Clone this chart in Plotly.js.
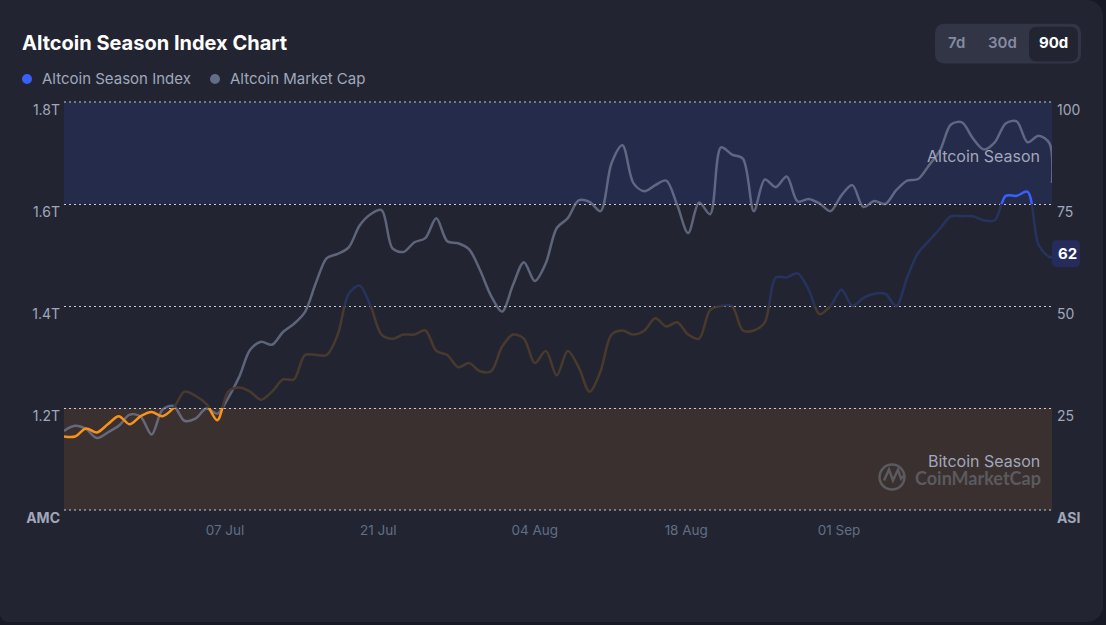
<!DOCTYPE html>
<html><head><meta charset="utf-8">
<script src="https://cdn.plot.ly/plotly-3.0.1.min.js"></script>
<style>
html,body{margin:0;padding:0;background:#171924;width:1106px;height:625px;overflow:hidden}
#g{position:absolute;left:0;top:0;width:1103px;height:622px;background:#222531;border-radius:0 16px 16px 8px;overflow:hidden}
</style></head><body><div id="g"></div>
<script>
var days=['06-22','06-23','06-24','06-25','06-26','06-27','06-28','06-29','06-30','07-01','07-02','07-03','07-04','07-05','07-06','07-07','07-08','07-09','07-10','07-11','07-12','07-13','07-14','07-15','07-16','07-17','07-18','07-19','07-20','07-21','07-22','07-23','07-24','07-25','07-26','07-27','07-28','07-29','07-30','07-31','08-01','08-02','08-03','08-04','08-05','08-06','08-07','08-08','08-09','08-10','08-11','08-12','08-13','08-14','08-15','08-16','08-17','08-18','08-19','08-20','08-21','08-22','08-23','08-24','08-25','08-26','08-27','08-28','08-29','08-30','08-31','09-01','09-02','09-03','09-04','09-05','09-06','09-07','09-08','09-09','09-10','09-11','09-12','09-13','09-14','09-15','09-16','09-17','09-18','09-19','09-20'];
var seasonIndex=[18,18,20,19,21,23,21,23,24,23,25,29,28,26,22,29,30,29,27,29,32,32,38,38,38,43,53,55,50,43,42,43,43,44,39,38,35,36,34,34,40,43,42,36,39,33,39,35,29,34,43,44,43,44,47,45,46,43,42,49,50,50,44,44,46,57,57,58,54,48,50,54,50,52,53,53,50,57,63,66,69,72,72,72,71,71,77,77,78,65,62,62];
var marketCap=[1.155,1.165,1.159,1.141,1.152,1.165,1.187,1.183,1.148,1.197,1.204,1.175,1.179,1.199,1.189,1.220,1.261,1.314,1.330,1.324,1.349,1.365,1.388,1.445,1.494,1.502,1.515,1.558,1.580,1.588,1.513,1.506,1.525,1.533,1.572,1.527,1.523,1.511,1.470,1.420,1.389,1.441,1.486,1.449,1.484,1.553,1.572,1.607,1.604,1.586,1.680,1.715,1.641,1.625,1.637,1.646,1.598,1.543,1.603,1.580,1.711,1.697,1.689,1.586,1.648,1.633,1.654,1.605,1.610,1.601,1.586,1.617,1.637,1.594,1.606,1.600,1.627,1.646,1.649,1.676,1.705,1.756,1.760,1.729,1.707,1.721,1.758,1.762,1.721,1.734,1.719,1.641];
var leftTickVals=[1.0,1.2,1.4,1.6,1.8];
var leftTickText=['<b>AMC</b>','1.2T','1.4T','1.6T','1.8T'];
var rightTickVals=[0,25,50,75,100];
var rightTickText=['<b>ASI</b>','25','50','75','100'];
var dateTicks=['2025-07-07 00:00','2025-07-21 00:00','2025-08-04 07:00','2025-08-18 03:00','2025-09-01 02:00'];
var bandColors=['#f7931a','#4a3a2d','#27335f','#3861fb'];
var bandEdges=[0,25,50,75,100];
var W=1103,H=622,L=64,R=1052,T=101.5,B=510.5;
var dates=days.map(function(d){return '2025-'+d+' 07:12'});
dates.push('2025-09-20 12:40');
function px(x){return (x-L)/(R-L)}
function py(y){return (B-y)/(B-T)}
function rr(x0,y0,x1,y1,r,fill){
  var a=px(x0),b=px(x1),c=py(y0),d=py(y1),rx=r/(R-L),ry=r/(B-T);
  return {type:'path',xref:'paper',yref:'paper',layer:'below',fillcolor:fill,line:{width:0},
   path:'M'+(a+rx)+','+c+' L'+(b-rx)+','+c+' Q'+b+','+c+' '+b+','+(c-ry)+' L'+b+','+(d+ry)+' Q'+b+','+d+' '+(b-rx)+','+d+' L'+(a+rx)+','+d+' Q'+a+','+d+' '+a+','+(d+ry)+' L'+a+','+(c-ry)+' Q'+a+','+c+' '+(a+rx)+','+c+' Z'};
}
function dot(cx,cy,r,fill){return {type:'circle',xref:'paper',yref:'paper',fillcolor:fill,line:{width:0},x0:px(cx-r),x1:px(cx+r),y0:py(cy+r),y1:py(cy-r)}}
function edge(y){return {type:'line',xref:'paper',yref:'paper',layer:'above',x0:0,x1:1,y0:y,y1:y,line:{color:'#c9ccd4',width:1,dash:'2px,3px'}}}
function note(text,x,y,anchor,size,color,weight,family){return {text:text,xref:'paper',yref:'paper',x:px(x),y:py(y),xanchor:anchor,yanchor:'middle',showarrow:false,font:{family:family||'Inter',size:size,color:color,weight:weight||400}}}
var traces=[{x:dates,y:marketCap,name:'Altcoin Market Cap',type:'scatter',mode:'lines',yaxis:'y',line:{color:'rgba(128,138,165,0.64)',width:2.5,shape:'spline',smoothing:0.9},hoverinfo:'skip'}];
var axes={};
bandColors.forEach(function(c,k){
  var id=k+3;
  traces.push({x:dates,y:seasonIndex,name:'Altcoin Season Index',type:'scatter',mode:'lines',yaxis:'y'+id,showlegend:false,line:{color:c,width:2.5,shape:'spline',smoothing:0.9},hoverinfo:'skip'});
  axes['yaxis'+id]={domain:[bandEdges[k]/100,bandEdges[k+1]/100],range:[bandEdges[k],bandEdges[k+1]],visible:false,anchor:'x',fixedrange:true};
});
traces.push({x:[dates[0]],y:[null],yaxis:'y2',type:'scatter',mode:'lines',showlegend:false,hoverinfo:'skip'});
var tick={family:'Inter',size:14,color:'#a1a7bb'};
var layout=Object.assign({
  width:W,height:H,paper_bgcolor:'rgba(0,0,0,0)',plot_bgcolor:'rgba(0,0,0,0)',showlegend:false,
  margin:{l:L,r:W-R,t:T,b:H-B,pad:0},
  title:{text:'<b>Altcoin Season Index Chart</b>',x:22/W,xanchor:'left',xref:'container',y:1-43/H,yanchor:'middle',font:{family:'Inter',size:20,color:'#ffffff'}},
  xaxis:{type:'date',range:['2025-06-22 07:12','2025-09-20 12:40'],tickmode:'array',tickvals:dateTicks,tickformat:'%d %b',showgrid:false,zeroline:false,showline:false,ticks:'',ticklabelstandoff:10,tickfont:{family:'Inter',size:13.5,color:'#616e85'},fixedrange:true,anchor:'y'},
  yaxis:{range:[1.0,1.8],tickmode:'array',tickvals:leftTickVals,ticktext:leftTickText,side:'left',showgrid:true,griddash:'2px,3px',gridcolor:'#c9ccd4',gridwidth:1,zeroline:false,showline:false,ticks:'',ticklabelstandoff:3,ticklabelshift:8,tickfont:tick,fixedrange:true,anchor:'x'},
  yaxis2:{range:[0,100],overlaying:'y',side:'right',tickmode:'array',tickvals:rightTickVals,ticktext:rightTickText,showgrid:false,zeroline:false,showline:false,ticks:'',ticklabelstandoff:4,ticklabelshift:8,tickfont:tick,fixedrange:true,anchor:'x'},
  shapes:[
    {type:'rect',xref:'paper',yref:'paper',layer:'below',x0:0,x1:1,y0:0.75,y1:1,fillcolor:'#252b4a',line:{width:0}},
    {type:'rect',xref:'paper',yref:'paper',layer:'below',x0:0,x1:1,y0:0,y1:0.25,fillcolor:'#3a3030',line:{width:0}},
    edge(0),edge(1),
    rr(935,23,1081,63,10,'#323546'),
    rr(1029,26,1078,61,8,'#222531'),
    rr(1052,240,1080,267,5,'#252c5b'),
    dot(27,78.5,5,'#3861fb'),
    dot(215,78.5,5,'#616e85'),
    {type:'circle',xref:'paper',yref:'paper',x0:px(879.5),x1:px(904.5),y0:py(490),y1:py(465),line:{color:'#5b5a5e',width:2.5},fillcolor:'rgba(0,0,0,0)'},
    {type:'path',xref:'paper',yref:'paper',line:{color:'#5b5a5e',width:2.5},path:'M'+px(884)+','+py(481)+' L'+px(889)+','+py(470)+' L'+px(893)+','+py(481)+' L'+px(898)+','+py(470)+' L'+px(901)+','+py(479)+' L'+px(905)+','+py(475)}
  ],
  annotations:[
    note('Altcoin Season Index',40,77.5,'left',15,'#a1a7bb'),
    note('Altcoin Market Cap',228,77.5,'left',15,'#a1a7bb'),
    note('7d',956,42,'center',15,'#858ca2',600),
    note('30d',1002,42,'center',15,'#858ca2',600),
    note('90d',1053,42,'center',15,'#ffffff',700),
    note('Altcoin Season',1042,156,'right',16,'#a1a7bb'),
    note('Bitcoin Season',1042,461.5,'right',16,'#a1a7bb'),
    note('CoinMarketCap',1043,478.5,'right',18,'#5b5a5e',700,'Lato'),
    note(String(seasonIndex[seasonIndex.length-1]),1067,253.5,'center',15,'#ffffff',700)
  ]
},axes);
Plotly.newPlot('g',traces,layout,{displayModeBar:false,staticPlot:true});
</script></body></html>
